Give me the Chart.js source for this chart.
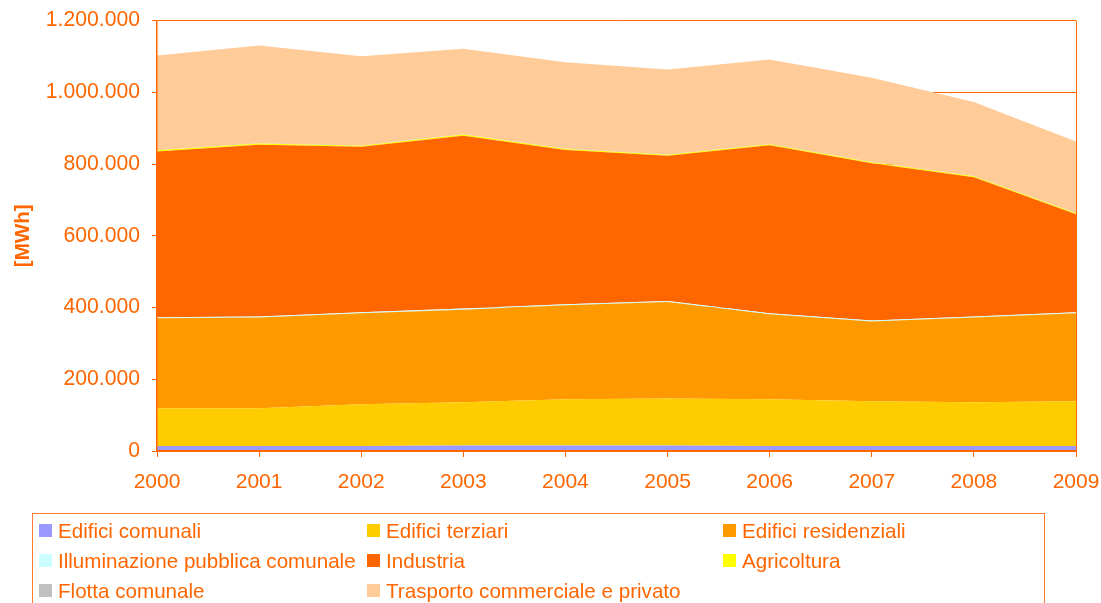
<!DOCTYPE html>
<html>
<head>
<meta charset="utf-8">
<script src="https://cdn.jsdelivr.net/npm/chart.js@4.4.1/dist/chart.umd.min.js"></script>
<style>
  html, body { margin: 0; padding: 0; background: #fff; overflow: hidden; }
  #wrap { position: relative; width: 1101px; height: 603px; }
  #c { position: absolute; left: 0; top: 0; }
  #legend {
    position: absolute; left: 32px; top: 513px; width: 1013px; height: 110px;
    border: 1px solid #FF7A30; box-sizing: border-box;
    font-family: "Liberation Sans", Arial, sans-serif; font-size: 20.6px; color: #FF6600;
  }
  .item { position: absolute; height: 30px; line-height: 30px; white-space: nowrap; }
  .sw { display: inline-block; width: 13px; height: 13px; vertical-align: middle; margin-right: 6px; position: relative; top: -2px; }
</style>
</head>
<body>
<div id="wrap">
  <canvas id="c" width="1101" height="603"></canvas>
  <div id="legend"></div>
</div>
<script>
// ---- Data (MWh) ----
const years = ['2000','2001','2002','2003','2004','2005','2006','2007','2008','2009'];
const seriesNames = [
  'Edifici comunali', 'Edifici terziari', 'Edifici residenziali',
  'Illuminazione pubblica comunale', 'Industria', 'Agricoltura',
  'Flotta comunale', 'Trasporto commerciale e privato'
];
const edificiComunali     = [14000, 14000, 14000, 15000, 15000, 15000, 14000, 14000, 14000, 14000];
const edificiTerziari     = [105000, 105000, 116000, 121000, 129000, 131000, 130000, 125000, 122000, 125000];
const edificiResidenziali = [251000, 253000, 254000, 258000, 262000, 269000, 237000, 222000, 236000, 245000];
const illuminazione       = [3000, 3000, 3000, 3000, 3000, 3000, 3000, 3000, 3000, 3000];
const industria           = [462000, 479000, 461000, 482000, 430000, 405000, 468000, 438000, 388000, 273000];
const agricoltura         = [3000, 3000, 3000, 3000, 3000, 3000, 3000, 3000, 3000, 3000];
const flottaComunale      = [600, 600, 600, 600, 600, 600, 600, 600, 600, 600];
const trasporto           = [264000, 273000, 249000, 239000, 241000, 237000, 236000, 235000, 206000, 199000];
const yTickMin = 0, yTickMax = 1200000, yTickStep = 200000;

const seriesValues = [edificiComunali, edificiTerziari, edificiResidenziali, illuminazione,
                      industria, agricoltura, flottaComunale, trasporto];
const seriesColors = ['#9999FF', '#FFCC00', '#FF9900', '#CCFFFF', '#FF6600', '#FFFF00', '#C0C0C0', '#FFCC99'];

const ORANGE = '#FF6600';
const FONT = "'Liberation Sans', Arial, sans-serif";

function fmt(v) {
  return String(v).replace(/\B(?=(\d{3})+(?!\d))/g, '.');
}

const datasets = seriesNames.map((name, i) => ({
  label: name,
  data: seriesValues[i],
  backgroundColor: seriesColors[i],
  borderColor: 'rgba(0,0,0,0)',
  borderWidth: 0,
  pointRadius: 0,
  pointHoverRadius: 0,
  tension: 0,
  fill: i === 0 ? 'origin' : '-1'
}));

// right border of the plot area, drawn behind the areas (as in the reference)
const rightBorder = {
  id: 'rightBorder',
  beforeDatasetsDraw(chart) {
    const a = chart.chartArea, ctx = chart.ctx;
    ctx.save();
    ctx.strokeStyle = ORANGE;
    ctx.lineWidth = 1;
    ctx.beginPath();
    ctx.moveTo(Math.round(a.right) + 0.5, a.top);
    ctx.lineTo(Math.round(a.right) + 0.5, a.bottom);
    ctx.stroke();
    ctx.restore();
  }
};

new Chart(document.getElementById('c'), {
  type: 'line',
  data: { labels: years, datasets },
  plugins: [rightBorder],
  options: {
    responsive: false,
    animation: false,
    events: [],
    layout: { padding: { left: 0, right: 25, top: 20.5, bottom: 102 } },
    plugins: { legend: { display: false }, tooltip: { enabled: false } },
    scales: {
      x: {
        offset: false,
        grid: { display: true, drawOnChartArea: false, drawTicks: true, tickLength: 6, color: ORANGE, lineWidth: 1 },
        border: { display: true, color: ORANGE, width: 1.5, z: 1 },
        ticks: { color: ORANGE, font: { family: FONT, size: 21 }, padding: 13, maxRotation: 0, autoSkip: false },
        afterFit: s => { s.height = 50; s.paddingLeft = 0; s.paddingRight = 0; }
      },
      y: {
        stacked: true,
        min: yTickMin, max: yTickMax,
        grid: { display: true, drawOnChartArea: true, drawTicks: true, tickLength: 5, color: ORANGE, lineWidth: 1 },
        border: { display: true, color: ORANGE, width: 1.5, z: 1 },
        ticks: { stepSize: yTickStep, color: ORANGE, font: { family: FONT, size: 21.2 }, padding: 12, callback: v => fmt(v) },
        title: { display: true, text: '[MWh]', color: ORANGE, font: { family: FONT, size: 20.6, weight: 'bold' }, padding: { top: 11, bottom: 0 } },
        afterFit: s => { s.width = 157; s.paddingTop = 0; s.paddingBottom = 0; }
      }
    }
  }
});

// HTML legend (3 columns, row-major order like the reference)
const colLeft = [6, 334, 690];
const rowTop = [1.5, 32, 61.5];
const legend = document.getElementById('legend');
seriesNames.forEach((name, i) => {
  const d = document.createElement('div');
  d.className = 'item';
  d.style.left = colLeft[i % 3] + 'px';
  d.style.top = rowTop[Math.floor(i / 3)] + 'px';
  const sw = document.createElement('span');
  sw.className = 'sw';
  sw.style.background = seriesColors[i];
  d.appendChild(sw);
  d.appendChild(document.createTextNode(name));
  legend.appendChild(d);
});
</script>
</body>
</html>
